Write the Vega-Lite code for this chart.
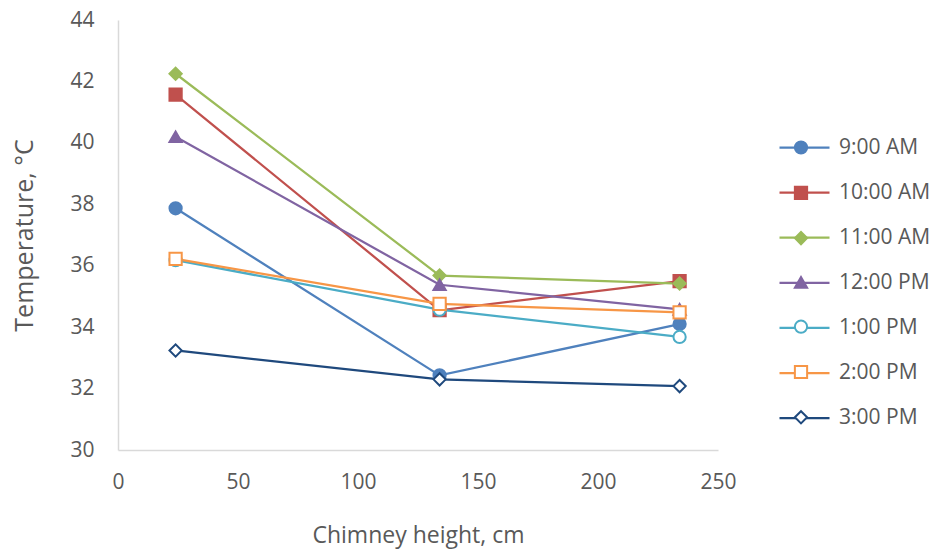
{
  "$schema": "https://vega.github.io/schema/vega-lite/v6.json",
  "autosize": {"type": "none"},
  "padding": {"left": 118, "top": 20, "right": 215, "bottom": 99},
  "width": 600,
  "height": 430,
  "background": "white",
  "config": {
    "view": {"stroke": null},
    "font": "Open Sans",
    "legend": {"padding": 0},
    "axis": {"labelColor": "#595959", "titleColor": "#595959", "labelFont": "Open Sans", "titleFont": "Open Sans", "titleFontWeight": "normal", "grid": false, "ticks": false, "domainColor": "#D9D9D9", "domainWidth": 1.5}
  },
  "data": {"values": [
    {"time": "9:00 AM", "h": 24, "t": 37.87},
    {"time": "9:00 AM", "h": 134, "t": 32.43},
    {"time": "9:00 AM", "h": 234, "t": 34.1},
    {"time": "10:00 AM", "h": 24, "t": 41.57},
    {"time": "10:00 AM", "h": 134, "t": 34.55},
    {"time": "10:00 AM", "h": 234, "t": 35.5},
    {"time": "11:00 AM", "h": 24, "t": 42.25},
    {"time": "11:00 AM", "h": 134, "t": 35.68},
    {"time": "11:00 AM", "h": 234, "t": 35.42},
    {"time": "12:00 PM", "h": 24, "t": 40.2},
    {"time": "12:00 PM", "h": 134, "t": 35.38},
    {"time": "12:00 PM", "h": 234, "t": 34.58},
    {"time": "1:00 PM", "h": 24, "t": 36.18},
    {"time": "1:00 PM", "h": 134, "t": 34.57},
    {"time": "1:00 PM", "h": 234, "t": 33.68},
    {"time": "2:00 PM", "h": 24, "t": 36.22},
    {"time": "2:00 PM", "h": 134, "t": 34.76},
    {"time": "2:00 PM", "h": 234, "t": 34.48},
    {"time": "3:00 PM", "h": 24, "t": 33.24},
    {"time": "3:00 PM", "h": 134, "t": 32.3},
    {"time": "3:00 PM", "h": 234, "t": 32.08}
  ]},
  "encoding": {
    "x": {"field": "h", "type": "quantitative", "scale": {"domain": [0, 250], "nice": false}, "axis": {"values": [0, 50, 100, 150, 200, 250], "labelFlush": false, "title": "Chimney height, cm", "labelFontSize": 21, "titleFontSize": 23, "labelPadding": 21, "titlePadding": 32}},
    "y": {"field": "t", "type": "quantitative", "scale": {"domain": [30, 44], "nice": false, "zero": false}, "axis": {"values": [30, 32, 34, 36, 38, 40, 42, 44], "labelFlush": false, "title": "Temperature, °C", "labelFontSize": 21, "titleFontSize": 25, "labelPadding": 24, "titlePadding": 32}}
  },
  "layer": [
    {"mark": {"type": "line", "strokeWidth": 2.25},
      "encoding": {
        "stroke": {"field": "time", "type": "nominal", "sort": null,
          "scale": {"range": ["#4F81BD", "#C0504D", "#9BBB59", "#8064A2", "#4BACC6", "#F79646", "#1F497D"]},
          "legend": {"title": null, "orient": "none", "legendX": 660, "legendY": 101, "symbolType": "stroke", "symbolSize": 2500, "symbolStrokeWidth": 2.25, "labelFontSize": 21, "labelColor": "#595959", "labelFont": "Open Sans", "rowPadding": 8.1, "labelOffset": 8}}
      }},
    {"mark": {"type": "point", "size": 150, "strokeWidth": 2, "opacity": 1},
      "encoding": {
        "color": {"field": "time", "type": "nominal", "sort": null,
          "scale": {"domain": ["9:00 AM", "10:00 AM", "11:00 AM", "12:00 PM", "1:00 PM", "2:00 PM", "3:00 PM"], "range": ["#4F81BD", "#C0504D", "#9BBB59", "#8064A2", "#4BACC6", "#F79646", "#1F497D"]},
          "legend": {"title": null, "orient": "none", "legendX": 660, "legendY": 120, "symbolOffset": 15.5, "symbolSize": 150, "symbolStrokeWidth": 2, "labelExpr": "''", "labelFontSize": 1, "rowPadding": 24.3, "labelOffset": 0}},
        "shape": {"field": "time", "type": "nominal", "sort": null, "scale": {"domain": ["9:00 AM", "10:00 AM", "11:00 AM", "12:00 PM", "1:00 PM", "2:00 PM", "3:00 PM"], "range": ["circle", "square", "diamond", "triangle-up", "circle", "square", "diamond"]}},
        "fill": {"field": "time", "type": "nominal", "sort": null, "scale": {"domain": ["9:00 AM", "10:00 AM", "11:00 AM", "12:00 PM", "1:00 PM", "2:00 PM", "3:00 PM"], "range": ["#4F81BD", "#C0504D", "#9BBB59", "#8064A2", "#FFFFFF", "#FFFFFF", "#FFFFFF"]}}
      }}
  ]
}
